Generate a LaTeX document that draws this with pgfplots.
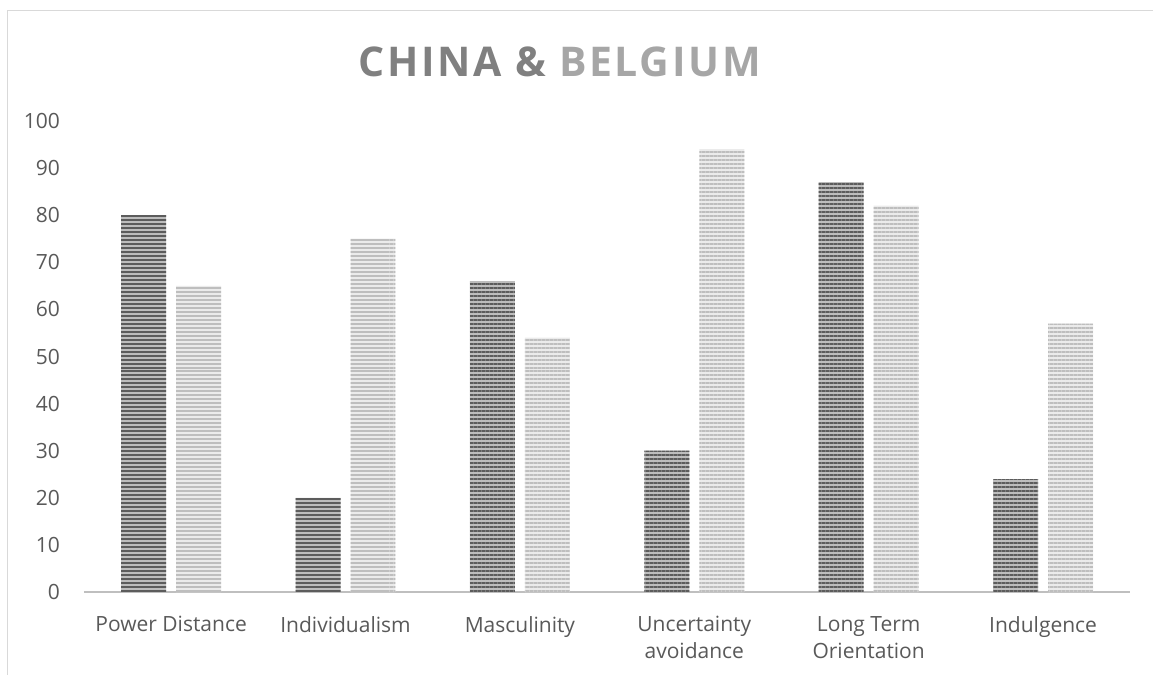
\documentclass[border=0pt]{standalone}
\usepackage{pgfplots}
\pgfplotsset{compat=1.18}
\usepackage{fontspec}
\setmainfont{Open Sans}
\usetikzlibrary{patterns.meta}
\definecolor{txt}{HTML}{595959}
\definecolor{frame}{HTML}{D9D9D9}
\definecolor{axl}{HTML}{BFBFBF}
\definecolor{dkbg}{HTML}{BDBDBD}
\definecolor{dkln}{HTML}{5C5C5C}
\definecolor{ltbg}{HTML}{EBEBEB}
\definecolor{ltln}{HTML}{BEBEBE}
\definecolor{tone}{HTML}{808080}
\definecolor{ttwo}{HTML}{A6A6A6}
\begin{document}
\begin{tikzpicture}
\path (0,0) rectangle (577pt,337.5pt);
\draw[frame, line width=0.75pt] (3.75pt,0) -- (3.75pt,332.25pt) -- (577pt,332.25pt);
\node[anchor=base, inner sep=0pt] at (280pt,299.25pt) {\fontsize{20.5}{24}\selectfont\bfseries\addfontfeature{LetterSpace=6.5}\textcolor{tone}{CHINA \&} \textcolor{ttwo}{BELGIUM}};
\begin{axis}[
  scale only axis,
  anchor=south west,
  at={(42pt,41.25pt)},
  width=523.5pt, height=235.75pt,
  xmin=-0.5, xmax=5.5, ymin=0, ymax=100,
  axis line style={draw=none},
  ytick={0,10,...,100},
  xtick={0,1,2,3,4,5},
  xticklabels={Power Distance, Individualism, Masculinity, Uncertainty\\avoidance, Long Term\\Orientation, Indulgence},
  major tick length=0pt,
  tick style={draw=none},
  ticklabel style={font=\fontsize{10.5}{13.5}\selectfont, text=txt},
  yticklabel style={anchor=east, xshift=-8.5pt},
  xticklabel style={align=center, anchor=north, yshift=-8.5pt},
  /pgf/number format/assume math mode=true,
  clip=false,
]
\draw[axl, line width=1.25pt] (axis cs:-0.5,0) -- (axis cs:5.5,0);
\addplot[ybar, bar width=22.5pt, bar shift=-13.75pt, draw=none, fill=dkbg,
  postaction={pattern={Lines[angle=0,distance=2pt,line width=1pt]}, pattern color=dkln}]
  coordinates {(0,80) (1,20) (2,66) (3,30) (4,87) (5,24)};
\addplot[ybar, bar width=22.5pt, bar shift=13.75pt, draw=none, fill=ltbg,
  postaction={pattern={Lines[angle=0,distance=2pt,line width=1pt]}, pattern color=ltln}]
  coordinates {(0,65) (1,75) (2,54) (3,94) (4,82) (5,57)};
\end{axis}
\end{tikzpicture}
\end{document}
